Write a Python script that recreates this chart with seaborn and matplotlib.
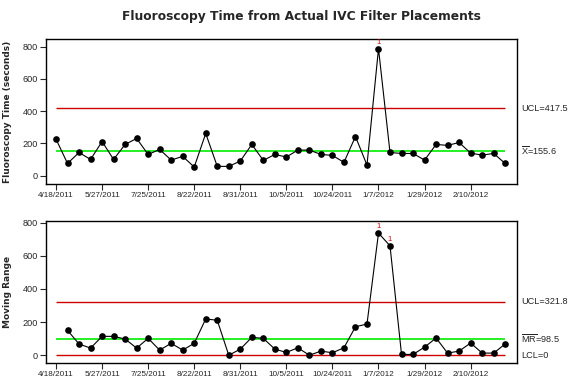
import numpy as np
import pandas as pd
import seaborn as sns
import matplotlib
matplotlib.use("Agg")
import matplotlib.pyplot as plt
from matplotlib.transforms import blended_transform_factory

# Valeurs (secondes)
fluoro_time = [227, 76, 144, 101, 212, 101, 194, 231, 132, 163,
               97, 120, 54, 262, 58, 58, 91, 194, 95, 132,
               116, 159, 159, 132, 126, 83, 243, 66, 788, 144,
               138, 138, 97, 194, 188, 206, 140, 128, 138, 76]
moving_range = [np.nan, 150, 68, 43, 114, 114, 98, 43, 102, 31,
                72, 31, 72, 219, 211, 0, 37, 108, 102, 37,
                17, 45, 0, 25, 15, 45, 172, 188, 737, 660,
                5, 5, 49, 104, 13, 25, 74, 13, 13, 68]
tick_labels = ["4/18/2011", "5/27/2011", "7/25/2011", "8/22/2011", "8/31/2011",
               "10/5/2011", "10/24/2011", "1/7/2012", "1/29/2012", "2/10/2012"]

# limites de contrôle affichées
i_ucl, i_center = 417.5, 155.6
mr_ucl, mr_center, mr_lcl = 321.8, 98.5, 0

# points hors contrôle (test 1)
flag_i = [28]
flag_mr = [28, 29]

df = pd.DataFrame({"obs": np.arange(len(fluoro_time)),
                   "time": fluoro_time,
                   "mr": moving_range})

sns.set_style("white")
plt.rcParams['font.family'] = ['Liberation Sans', 'DejaVu Sans']
plt.rcParams['mathtext.fontset'] = 'custom'
plt.rcParams['mathtext.rm'] = 'Liberation Sans'

RED = "#cc0000"
GREEN = "#00ee00"

fig = plt.figure(figsize=(5.77, 3.85), dpi=100)
ax1 = fig.add_axes([0.0797, 0.522, 0.8158, 0.376])
ax2 = fig.add_axes([0.0797, 0.0579, 0.8158, 0.369])

first, last = df["obs"].iloc[0], df["obs"].iloc[-1]


def style_axis(ax, ymin, ymax, label):
    ax.set_xlim(-0.87, 40.0)
    ax.set_ylim(ymin, ymax)
    ax.set_xticks(df["obs"][::4])
    ax.set_xticklabels(tick_labels, fontsize=5.9)
    ax.set_yticks([0, 200, 400, 600, 800])
    ax.tick_params(axis="y", labelsize=6.6, length=4, width=0.8, direction="out",
                   left=True, pad=2)
    ax.tick_params(axis="x", length=4, width=0.8, direction="out", bottom=True, pad=2)
    for sp in ax.spines.values():
        sp.set_color("black")
        sp.set_linewidth(1.0)
    ax.set_xlabel("")
    ax.set_ylabel(label, fontsize=6.5, fontweight="bold", family="DejaVu Sans")
    ax.yaxis.set_label_coords(-0.072, 0.5)


# 1. Carte des valeurs individuelles
ax1.hlines(i_ucl, first, last, color=RED, lw=1.0, zorder=1)
ax1.hlines(i_center, first, last, color=GREEN, lw=1.2, zorder=1)
sns.lineplot(data=df, x="obs", y="time", ax=ax1, color="black", lw=0.8,
             marker="o", markersize=4.8, markeredgewidth=0, zorder=3)
for i in flag_i:
    ax1.annotate("1", (df["obs"][i], df["time"][i]), xytext=(0, 2),
                 textcoords="offset points", ha="center", va="bottom",
                 fontsize=5.5, color=RED)
style_axis(ax1, -51.5, 846, "Fluoroscopy Time (seconds)")

tr1 = blended_transform_factory(ax1.transAxes, ax1.transData)
ax1.text(1.01, i_ucl, "UCL=417.5", transform=tr1, fontsize=6.6, va="center")
ax1.text(1.01, i_center, r"$\overline{\mathrm{X}}$=155.6", transform=tr1,
         fontsize=6.6, va="center")

# 2. Carte des étendues mobiles
ax2.hlines(mr_ucl, first, last, color=RED, lw=1.0, zorder=1)
ax2.hlines(mr_lcl, first, last, color=RED, lw=1.0, zorder=1)
ax2.hlines(mr_center, first, last, color=GREEN, lw=1.2, zorder=1)
sns.lineplot(data=df.dropna(), x="obs", y="mr", ax=ax2, color="black", lw=0.8,
             marker="o", markersize=4.8, markeredgewidth=0, zorder=3)
for i in flag_mr:
    ax2.annotate("1", (df["obs"][i], df["mr"][i]), xytext=(0, 2),
                 textcoords="offset points", ha="center", va="bottom",
                 fontsize=5.5, color=RED)
style_axis(ax2, -45, 812, "Moving Range")

tr2 = blended_transform_factory(ax2.transAxes, ax2.transData)
ax2.text(1.01, mr_ucl, "UCL=321.8", transform=tr2, fontsize=6.6, va="center")
ax2.text(1.01, mr_center, r"$\overline{\mathrm{MR}}$=98.5", transform=tr2,
         fontsize=6.6, va="center")
ax2.text(1.01, mr_lcl, "LCL=0", transform=tr2, fontsize=6.6, va="center")

fig.text(0.522, 0.956, "Fluoroscopy Time from Actual IVC Filter Placements",
         ha="center", va="center", fontsize=8.8, fontweight="bold",
         family="DejaVu Sans")

fig.savefig("out.png", dpi=100)
